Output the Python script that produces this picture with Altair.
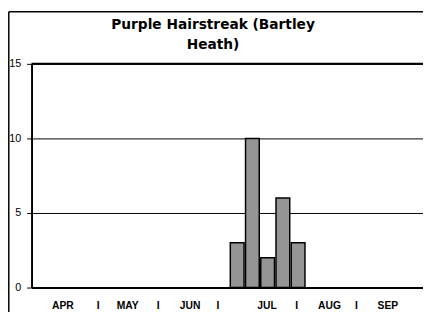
import altair as alt
import pandas as pd

# Data
title_lines = ["Purple Hairstreak (Bartley", "Heath)"]
week_numbers = [14, 15, 16, 17, 18]
counts = [3, 10, 2, 6, 3]
month_labels = ["APR", "I", "MAY", "I", "JUN", "I", "JUL", "I", "AUG", "I", "SEP"]
month_label_weeks = [2.06, 4.38, 6.31, 8.31, 10.41, 12.24, 15.46, 17.40, 19.56, 21.33, 23.39]
y_ticks = [0, 5, 10, 15]

bars_df = pd.DataFrame({"week": week_numbers, "count": counts})
labels_df = pd.DataFrame({"label": month_labels, "pos": month_label_weeks})
one_row = pd.DataFrame({"a": [0]})

PLOT_W = 399
PLOT_H = 228
x_scale = alt.Scale(domain=[0, 25.7], nice=False, zero=False, padding=0)
y_scale = alt.Scale(domain=[0, 15], nice=False, padding=0)

bars = (
    alt.Chart(bars_df)
    .transform_calculate(mid="datum.week - 0.5")
    .mark_bar(size=14, fill="#959595", stroke="#000000", strokeWidth=1.5)
    .encode(
        x=alt.X("mid:Q", scale=x_scale,
                axis=alt.Axis(labels=False, ticks=False, grid=False, title=None,
                              domainColor="#000000", domainWidth=2)),
        y=alt.Y("count:Q", scale=y_scale,
                axis=alt.Axis(values=y_ticks, grid=True, gridColor="#000000", gridWidth=1,
                              gridOpacity=1, domainColor="#000000", domainWidth=2,
                              tickColor="#000000", tickSize=5, tickWidth=1,
                              labelFont="Liberation Sans", labelFontSize=11,
                              labelColor="#000000", labelPadding=6, title=None)),
    )
)

top_line = alt.Chart(pd.DataFrame({"v": [15]})).mark_rule(color="#000000", strokeWidth=2).encode(
    y=alt.Y("v:Q", scale=y_scale)
)

month_text = (
    alt.Chart(labels_df)
    .mark_text(font="Liberation Sans", fontSize=10.5, fontWeight="bold", color="#000000",
               baseline="middle", align="center")
    .encode(x=alt.X("pos:Q", scale=x_scale), y=alt.value(247), text="label:N")
)

title_text = (
    alt.Chart(one_row)
    .mark_text(text=title_lines, font="DejaVu Sans", fontSize=14, fontWeight="bold",
               color="#000000", align="center", baseline="alphabetic", lineHeight=20.5)
    .encode(x=alt.value(185), y=alt.value(-35.3))
)

frame_left = alt.Chart(one_row).mark_rule(color="#000000", strokeWidth=1.5).encode(
    x=alt.value(-23.2), y=alt.value(-53.2), y2=alt.value(260)
)
frame_top = alt.Chart(one_row).mark_rule(color="#000000", strokeWidth=1.5).encode(
    x=alt.value(-23.2), x2=alt.value(PLOT_W + 5), y=alt.value(-53.2)
)

chart = (
    alt.layer(bars, top_line, month_text, title_text, frame_left, frame_top)
    .properties(
        width=PLOT_W,
        height=PLOT_H,
        autosize=alt.AutoSizeParams(type="none"),
        padding={"left": 24, "top": 54, "right": 0, "bottom": 22},
    )
    .configure_view(stroke=None)
    .configure(background="#ffffff")
)

chart.save("out.html", embed_options={"renderer": "svg", "actions": False})
